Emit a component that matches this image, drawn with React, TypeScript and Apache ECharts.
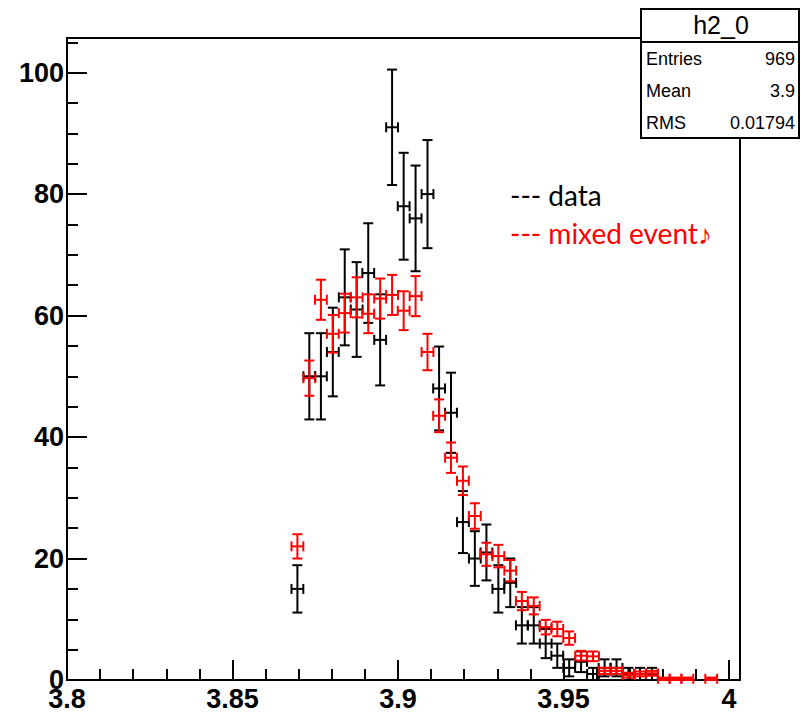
import React, { useEffect, useRef } from "react";
import * as echarts from "echarts";

// Bin centres (x values) of the histogram
const binCenters = [
  3.8696, 3.8732, 3.8767, 3.8803, 3.8839, 3.8875, 3.891, 3.8946, 3.8982, 3.9017,
  3.9053, 3.9089, 3.9124, 3.916, 3.9196, 3.9232, 3.9267, 3.9303, 3.9339, 3.9374,
  3.941, 3.9446, 3.9481, 3.9517, 3.9553, 3.9589, 3.9624, 3.966, 3.9696, 3.9731,
  3.9767, 3.9803, 3.9838, 3.9874, 3.991, 3.9946,
];
// "data" histogram (black)
const dataCounts = [
  15, 50, 50, 54, 63, 61, 67, 56, 91, 78,
  76, 80, 48, 44, 26, 20, 21, 15, 16, 9,
  9, 6, 4, 2, 3, 1, 2, 2, 1, 1,
  1, 0, 0, 0, 0, 0,
];
const dataErrors = [
  3.9, 7.1, 7.1, 7.3, 7.9, 7.8, 8.2, 7.5, 9.5, 8.8,
  8.7, 8.9, 6.9, 6.6, 5.1, 4.5, 4.6, 3.9, 4.0, 3.0,
  3.0, 2.4, 2.0, 1.4, 1.7, 1.0, 1.4, 1.4, 1.0, 1.0,
  1.0, 0, 0, 0, 0, 0,
];
// "mixed event" histogram (red)
const mixedCounts = [
  22, 49.7, 62.6, 57, 60.4, 63, 60.3, 62.8, 63.4, 60.8,
  63.2, 54, 43.5, 36.6, 32.8, 27, 20.7, 20.4, 18, 13,
  12.2, 8.7, 8.4, 6.9, 4, 3.9, 1.5, 1.5, 0.8, 1.0,
  1.1, 0.2, 0.2, 0.2, 0, 0.2,
];
const mixedErrors = [
  2.0, 2.9, 3.3, 3.1, 3.2, 3.3, 3.2, 3.3, 3.3, 3.2,
  3.3, 3.0, 2.7, 2.5, 2.35, 2.1, 1.9, 1.85, 1.75, 1.5,
  1.4, 1.2, 1.2, 1.1, 0.8, 0.8, 0.5, 0.5, 0.4, 0.4,
  0.4, 0.2, 0.2, 0.2, 0, 0.2,
];
const binHalfWidth = 0.001785;

const xMin = 3.8;
const xMax = 4.0033;
const yMin = 0;
const yMax = 105.7;

const statsTitle = "h2_0";
const statsNames = ["Entries", "Mean", "RMS"];
const statsValues = ["969", "3.9", "0.01794"];
const legendLabels = ["--- data", "--- mixed event\u266A"];
const legendColors = ["#000000", "#ff0000"];

const LABEL_FONT = "'Liberation Sans', Arial, Helvetica, sans-serif";

function buildRows(counts: number[], errors: number[]) {
  const rows: number[][] = [];
  for (let i = 0; i < binCenters.length; i++) {
    if (counts[i] > 0) rows.push([binCenters[i], counts[i], errors[i], binHalfWidth]);
  }
  return rows;
}

const makeRender = (color: string) => (_params: any, api: any) => {
  const x = api.value(0);
  const y = api.value(1);
  const ey = api.value(2);
  const ex = api.value(3);
  const t = api.coord([x, y + ey]);
  const b = api.coord([x, y - ey]);
  const l = api.coord([x - ex, y]);
  const r = api.coord([x + ex, y]);
  const cap = 5;
  const st = { stroke: color, lineWidth: 2, fill: null };
  const line = (x1: number, y1: number, x2: number, y2: number) => ({
    type: "line",
    shape: { x1, y1, x2, y2 },
    style: st,
  });
  return {
    type: "group",
    children: [
      line(t[0], t[1], b[0], b[1]),
      line(t[0] - cap, t[1], t[0] + cap, t[1]),
      line(b[0] - cap, b[1], b[0] + cap, b[1]),
      line(l[0], l[1], r[0], r[1]),
      line(l[0], l[1] - cap, l[0], l[1] + cap),
      line(r[0], r[1] - cap, r[0], r[1] + cap),
    ],
  };
};

export default function App() {
  const ref = useRef<HTMLDivElement>(null);
  useEffect(() => {
    if (!ref.current) return;
    const chart = echarts.init(ref.current, undefined, { renderer: "svg" });
    const tickStyle = { color: "#000", width: 2 };
    const option: any = {
      animation: false,
      backgroundColor: "#ffffff",
      grid: {
        left: 67,
        right: 60,
        top: 38,
        bottom: 31,
        show: true,
        borderColor: "#000",
        borderWidth: 2,
        backgroundColor: "transparent",
      },
      xAxis: [
        {
          type: "value",
          position: "bottom",
          min: xMin,
          max: xMax,
          interval: 0.05,
          axisLine: { show: true, lineStyle: { color: "#000", width: 2 } },
          axisTick: { show: true, inside: true, length: 20, lineStyle: tickStyle },
          splitLine: { show: false },
          axisLabel: {
            show: true,
            margin: 5,
            color: "#000",
            fontFamily: LABEL_FONT,
            fontWeight: "bold",
            fontSize: 27,
            showMaxLabel: true,
            formatter: (v: number) => {
              const k = v * 20;
              return Math.abs(k - Math.round(k)) < 1e-6 ? String(+v.toFixed(2)) : "";
            },
          },
        },
        {
          type: "value",
          position: "bottom",
          min: xMin,
          max: xMax,
          interval: 0.01,
          axisLine: { show: false },
          axisTick: { show: true, inside: true, length: 11, lineStyle: tickStyle },
          splitLine: { show: false },
          axisLabel: { show: false },
        },
      ],
      yAxis: [
        {
          type: "value",
          position: "left",
          min: yMin,
          max: yMax,
          interval: 20,
          axisLine: { show: true, lineStyle: { color: "#000", width: 2 } },
          axisTick: { show: true, inside: true, length: 20, lineStyle: tickStyle },
          splitLine: { show: false },
          axisLabel: {
            show: true,
            margin: 3,
            color: "#000",
            fontFamily: LABEL_FONT,
            fontWeight: "bold",
            fontSize: 27,
            formatter: (v: number) => {
              const k = v / 20;
              return Math.abs(k - Math.round(k)) < 1e-6 ? String(Math.round(v)) : "";
            },
          },
        },
        {
          type: "value",
          position: "left",
          min: yMin,
          max: yMax,
          interval: 5,
          axisLine: { show: false },
          axisTick: { show: true, inside: true, length: 11, lineStyle: tickStyle },
          splitLine: { show: false },
          axisLabel: { show: false },
        },
      ],
      series: [
        {
          type: "custom",
          name: "data",
          xAxisIndex: 0,
          yAxisIndex: 0,
          renderItem: makeRender("#000000"),
          encode: { x: 0, y: 1 },
          data: buildRows(dataCounts, dataErrors),
          clip: false,
          z: 5,
        },
        {
          type: "custom",
          name: "mixed event",
          xAxisIndex: 0,
          yAxisIndex: 0,
          renderItem: makeRender("#ff0000"),
          encode: { x: 0, y: 1 },
          data: buildRows(mixedCounts, mixedErrors),
          clip: false,
          z: 6,
        },
      ],
      graphic: [
        {
          type: "rect",
          z: 100,
          shape: { x: 641, y: 9, width: 158, height: 129 },
          style: { fill: "#fff", stroke: "#000", lineWidth: 2 },
        },
        {
          type: "line",
          z: 101,
          shape: { x1: 641, y1: 42, x2: 799, y2: 42 },
          style: { stroke: "#000", lineWidth: 2 },
        },
        {
          type: "text",
          z: 101,
          x: 721,
          y: 25,
          style: {
            text: statsTitle,
            fill: "#000",
            font: `25px ${LABEL_FONT}`,
            textAlign: "center",
            textVerticalAlign: "middle",
          },
        },
        ...statsNames.map((n, i) => ({
          type: "text",
          z: 101,
          x: 646,
          y: [59, 90.5, 122.5][i],
          style: {
            text: n,
            fill: "#000",
            font: `18px ${LABEL_FONT}`,
            textAlign: "left",
            textVerticalAlign: "middle",
          },
        })),
        ...statsValues.map((v, i) => ({
          type: "text",
          z: 101,
          x: 795,
          y: [59, 90.5, 122.5][i],
          style: {
            text: v,
            fill: "#000",
            font: `18px ${LABEL_FONT}`,
            textAlign: "right",
            textVerticalAlign: "middle",
          },
        })),
        ...legendLabels.map((t, i) => ({
          type: "text",
          z: 101,
          x: 510,
          y: [195, 233][i],
          style: {
            text: t,
            fill: legendColors[i],
            font: `28px Lato, 'Open Sans', sans-serif`,
            textAlign: "left",
            textVerticalAlign: "middle",
          },
        })),
      ],
    };
    chart.setOption(option);
    return () => chart.dispose();
  }, []);
  return (
    <div
      ref={ref}
      style={{ position: "fixed", left: 0, top: 0, width: 800, height: 712, background: "#fff" }}
    />
  );
}
